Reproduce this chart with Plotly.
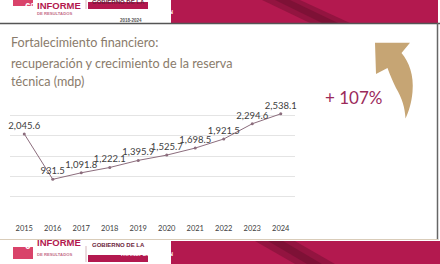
import plotly.graph_objects as go

years = ["2015", "2016", "2017", "2018", "2019", "2020", "2021", "2022", "2023", "2024"]
reserve = [2045.6, 931.5, 1091.8, 1222.1, 1395.9, 1525.7, 1698.5, 1921.5, 2294.6, 2538.1]
value_labels = [f"{v:,.1f}" for v in reserve]
title_lines = ["Fortalecimiento financiero:",
               "recuperación y crecimiento de la reserva",
               "técnica (mdp)"]
growth_text = "+ 107%"

W, H = 440, 264
def px(x):
    return x / W
def py(y):
    return 1 - y / H

def path_px(cmds):
    out = []
    for c in cmds:
        if isinstance(c, str):
            out.append(c)
        else:
            out.append(f"{px(c[0]):.5f},{py(c[1]):.5f}")
    return " ".join(out)

fig = go.Figure()
fig.add_trace(go.Scatter(
    x=years, y=reserve, mode="lines+markers+text",
    line=dict(color="#8c6d7d", width=1),
    marker=dict(size=3, color="#8c6d7d"),
    text=value_labels, textposition="top center",
    textfont=dict(family="Lato", size=9.5, color="#404040"),
    cliponaxis=False, hoverinfo="skip", showlegend=False,
))

shapes = []
# header band
shapes.append(dict(type="rect", xref="paper", yref="paper", x0=px(171), x1=px(438), y0=py(23), y1=py(0),
                   fillcolor="#b3194f", line=dict(width=0), layer="below"))
shapes.append(dict(type="path", xref="paper", yref="paper",
                   path=path_px(["M", (262, 0), "L", (300, 0), "L", (350, 23), "L", (310, 23), "Z"]),
                   fillcolor="#5a0c25", opacity=0.35, line=dict(width=0), layer="below"))
shapes.append(dict(type="path", xref="paper", yref="paper",
                   path=path_px(["M", (275, 0), "L", (290, 0), "L", (338, 23), "L", (322, 23), "Z"]),
                   fillcolor="#5a0c25", opacity=0.35, line=dict(width=0), layer="below"))
# footer band
shapes.append(dict(type="rect", xref="paper", yref="paper", x0=px(171), x1=px(440), y0=py(264), y1=py(241),
                   fillcolor="#b3194f", line=dict(width=0), layer="below"))
shapes.append(dict(type="path", xref="paper", yref="paper",
                   path=path_px(["M", (255, 241), "L", (295, 241), "L", (335, 264), "L", (295, 264), "Z"]),
                   fillcolor="#5a0c25", opacity=0.35, line=dict(width=0), layer="below"))
shapes.append(dict(type="path", xref="paper", yref="paper",
                   path=path_px(["M", (268, 241), "L", (283, 241), "L", (322, 264), "L", (307, 264), "Z"]),
                   fillcolor="#5a0c25", opacity=0.35, line=dict(width=0), layer="below"))
# card borders
shapes.append(dict(type="line", xref="paper", yref="paper", x0=0, x1=1, y0=py(23.5), y1=py(23.5),
                   line=dict(color="#555555", width=1.5)))
shapes.append(dict(type="line", xref="paper", yref="paper", x0=px(437.5), x1=px(437.5), y0=py(23), y1=py(240),
                   line=dict(color="#666666", width=1.5)))
shapes.append(dict(type="line", xref="paper", yref="paper", x0=0, x1=px(438), y0=py(239.5), y1=py(239.5),
                   line=dict(color="#d9ccb9", width=1)))
# arrow
arrow = ["M", (375, 42.7), "L", (410, 42.7), "L", (401.5, 53),
         "C", (409, 62), (414, 75), (412.5, 92),
         "C", (411.5, 103), (409, 111), (405.5, 118.5),
         "C", (405, 108), (402, 98), (396, 88),
         "C", (393, 82), (390, 75), (387.5, 68),
         "L", (376, 74), "Z"]
shapes.append(dict(type="path", xref="paper", yref="paper", path=path_px(arrow),
                   fillcolor="#c6a574", line=dict(width=0)))

# logos (header, footer)
def logo(dy, show_years, informe_y, deres_y):
    s = []
    a = []
    s.append(dict(type="rect", xref="paper", yref="paper", x0=px(13), x1=px(33), y0=py(259 + dy), y1=py(247 + dy),
                  fillcolor="#d9436a", line=dict(width=0)))
    s.append(dict(type="line", xref="paper", yref="paper", x0=px(86), x1=px(86), y0=py(246 + dy), y1=py(262 + dy),
                  line=dict(color="#caa3ab", width=0.8)))
    s.append(dict(type="rect", xref="paper", yref="paper", x0=px(88), x1=px(148), y0=py(262 + dy), y1=py(255 + dy),
                  fillcolor="#b3194f", line=dict(width=0)))
    a.append(dict(x=px(23), y=py(253 + dy), text="<b>6°</b>", font=dict(family="Liberation Sans", size=10, color="white")))
    a.append(dict(x=px(35), y=py(informe_y), text="<b>INFORME</b>", xanchor="left",
                  font=dict(family="Liberation Sans", size=9.5, color="#b3194f")))
    a.append(dict(x=px(35), y=py(deres_y), text="<b>DE RESULTADOS</b>", xanchor="left",
                  font=dict(family="Liberation Sans", size=4.2, color="#c46d8a")))
    a.append(dict(x=px(90), y=py(250 + dy), text="<b>GOBIERNO DE LA</b>", xanchor="left",
                  font=dict(family="Liberation Sans", size=6, color="#6b1e3a")))
    a.append(dict(x=px(118), y=py(258.5 + dy), text="<b>TRANSFORMACIÓN</b>",
                  font=dict(family="Liberation Sans", size=5.5, color="white")))
    if show_years:
        a.append(dict(x=px(118), y=py(268.5 + dy), text="<b>2018-2024</b>",
                      font=dict(family="Liberation Sans", size=4.5, color="#555555")))
    return s, a

annotations = []
s1, a1 = logo(-253, True, -2, 8.5)
s2, a2 = logo(0, False, 250.3, 259.2)
shapes += s1 + s2
annotations += a1 + a2

for i, (line, yc) in enumerate(zip(title_lines, [43, 63, 82])):
    annotations.append(dict(x=px(9), y=py(yc), text=line, xanchor="left", yanchor="middle",
                            font=dict(family="Lato", size=12.6, color="#8a7b6b")))
annotations.append(dict(x=px(353), y=py(97), text=growth_text, xanchor="center", yanchor="middle",
                        font=dict(family="Lato", size=17, color="#9b2a5a")))
for a in annotations:
    a.setdefault("xref", "paper")
    a.setdefault("yref", "paper")
    a.setdefault("showarrow", False)

fig.update_layout(
    width=W, height=H, autosize=False,
    margin=dict(l=0, r=0, t=0, b=0),
    paper_bgcolor="white", plot_bgcolor="white",
    shapes=shapes, annotations=annotations,
    xaxis=dict(domain=[px(10), px(295)], type="category", range=[-0.5, 9.5],
               showgrid=False, showline=False, zeroline=False, ticks="outside",
               ticklen=4, tickcolor="rgba(0,0,0,0)",
               tickfont=dict(family="Lato", size=7.5, color="#404040")),
    yaxis=dict(domain=[py(217.3), py(95)], range=[0, 3000], dtick=500,
               showgrid=True, gridcolor="#e4e4e4", gridwidth=1, zeroline=False,
               showticklabels=False, showline=False, ticks=""),
)
fig.write_html("out.html", config={"displayModeBar": False},
               post_script="document.body.style.margin='0';document.body.style.padding='0';document.body.style.overflow='hidden';")
